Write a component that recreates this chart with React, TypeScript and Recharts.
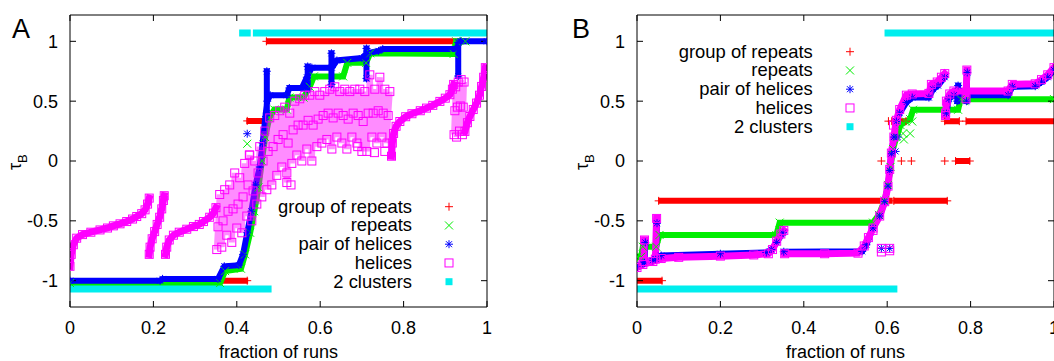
import { ComposedChart, Line, Scatter, XAxis, YAxis } from 'recharts'

// [x, tau_B] points; null breaks a run
type Pt = [number, number] | null

const xTicks = [0, 0.2, 0.4, 0.6, 0.8, 1]
const yTicks = [-1, -0.5, 0, 0.5, 1]
const legendLabels = ['group of repeats', 'repeats', 'pair of helices', 'helices', '2 clusters']

// ---------- panel A ----------
const groupA: Pt[] = [[0.367, -1], [0.42, -1], null, [0.43, 0.335], [0.465, 0.335], null, [0.477, 1], [0.92, 1]]
const groupMarksA: Pt[] = [[0.425, -1], [0.425, 0.335], [0.471, 1]]

const repeatsA: Pt[] = [
  [0, -1.02], [0.36, -1.02], [0.372, -0.92], [0.41, -0.9], [0.42, -0.78], [0.432, -0.6], [0.442, -0.42],
  [0.452, -0.22], [0.46, 0], [0.468, 0.2], [0.478, 0.36], [0.49, 0.43], [0.52, 0.43], [0.526, 0.53],
  [0.56, 0.53], [0.575, 0.62], [0.585, 0.707], [0.655, 0.707], [0.665, 0.82], [0.71, 0.82], [0.72, 0.9],
  [0.92, 0.895], [0.926, 1], [0.948, 1],
]
const repeatsMarksA: Pt[] = [[0.425, 0.144]]

const pairsA: Pt[] = [
  [0, -1], [0.216, -1], [0.222, -0.985], [0.355, -0.985], [0.37, -0.88], [0.405, -0.87], [0.415, -0.78],
  [0.425, -0.6], [0.435, -0.42], [0.445, -0.2], [0.455, -0.05], [0.462, 0.15], [0.468, 0.35], [0.473, 0.5],
  [0.48, 0.55], [0.52, 0.55], [0.526, 0.61], [0.556, 0.61], [0.568, 0.7], [0.58, 0.78], [0.628, 0.78],
  [0.64, 0.84], [0.7, 0.86], [0.712, 0.9], [0.74, 0.92], [0.75, 0.935], [0.926, 0.935], [0.936, 1], [1, 1],
  null, [0.472, 0.4], [0.472, 0.75],
  null, [0.57, 0.6], [0.57, 0.79],
  null, [0.627, 0.64], [0.627, 0.9],
  null, [0.711, 0.69], [0.711, 0.94],
  null, [0.931, 0.71], [0.931, 0.99],
]
const pairsMarksA: Pt[] = [[0.425, 0.228]]

const helicesA: Pt[] = [
  [0, -0.88], [0.003, -0.78], [0.008, -0.7], [0.016, -0.645], [0.03, -0.615], [0.05, -0.595], [0.072, -0.576],
  [0.09, -0.56], [0.104, -0.542], [0.12, -0.525], [0.136, -0.506], [0.15, -0.485], [0.16, -0.464],
  [0.172, -0.44], [0.18, -0.408], [0.186, -0.36], [0.19, -0.31],
  null, [0.19, -0.78], [0.192, -0.72], [0.197, -0.65], [0.203, -0.59], [0.209, -0.53], [0.215, -0.47],
  [0.22, -0.4], [0.224, -0.33], [0.226, -0.29],
  null, [0.229, -0.78], [0.232, -0.72], [0.238, -0.66], [0.248, -0.62], [0.262, -0.595], [0.28, -0.57],
  [0.296, -0.548], [0.31, -0.53], [0.32, -0.506], [0.335, -0.47], [0.344, -0.436], [0.35, -0.39],
  null, [0.771, 0.04], [0.773, 0.15], [0.776, 0.23], [0.782, 0.29], [0.791, 0.33], [0.805, 0.37], [0.82, 0.395],
  [0.84, 0.42], [0.855, 0.442], [0.87, 0.465], [0.887, 0.498], [0.9, 0.525], [0.911, 0.554], [0.917, 0.6], [0.92, 0.64],
  null, [0.947, 0.247], [0.953, 0.32], [0.959, 0.372], [0.967, 0.43], [0.975, 0.484], [0.982, 0.55],
  [0.987, 0.623], [0.992, 0.7], [0.996, 0.78],
]
// scattered sawtooth columns of the helices series
const helicesNoisyA: Pt[] = [
  [0.352, -0.74], [0.355, -0.55], [0.359, -0.28], [0.364, -0.72], [0.367, -0.5], [0.371, -0.24],
  [0.376, -0.62], [0.379, -0.42], [0.383, -0.2], [0.388, -0.68], [0.391, -0.4], [0.395, -0.1],
  [0.4, -0.56], [0.403, -0.36], [0.407, -0.14], [0.412, -0.6], [0.415, -0.3], [0.419, -0.02],
  [0.424, -0.46], [0.427, -0.2], [0.431, 0.05], [0.436, -0.5], [0.439, -0.25], [0.443, 0],
  [0.448, -0.36], [0.451, -0.1], [0.455, 0.12], [0.46, -0.3], [0.463, 0], [0.467, 0.25],
  [0.472, -0.24], [0.475, 0.08], [0.479, 0.36], [0.484, -0.2], [0.487, 0.12], [0.491, 0.38],
  [0.496, -0.12], [0.499, 0.18], [0.503, 0.42], [0.508, -0.05], [0.511, 0.22], [0.515, 0.45],
  [0.52, -0.18], [0.523, 0.15], [0.527, 0.4], [0.532, -0.02], [0.535, 0.26], [0.539, 0.5],
  [0.544, 0.05], [0.547, 0.3], [0.551, 0.52], [0.556, 0], [0.559, 0.3], [0.563, 0.55],
  [0.568, 0.1], [0.571, 0.34], [0.575, 0.55], [0.58, 0], [0.583, 0.3], [0.587, 0.58],
  [0.592, 0.12], [0.595, 0.35], [0.599, 0.55], [0.604, 0.15], [0.607, 0.38], [0.611, 0.58],
  [0.616, 0.18], [0.619, 0.4], [0.623, 0.6], [0.628, 0.1], [0.631, 0.36], [0.635, 0.62],
  [0.64, 0.2], [0.643, 0.4], [0.647, 0.58], [0.652, 0.15], [0.655, 0.38], [0.659, 0.6],
  [0.664, 0.1], [0.667, 0.35], [0.671, 0.58], [0.676, 0.2], [0.679, 0.4], [0.683, 0.6],
  [0.688, 0.15], [0.691, 0.38], [0.695, 0.6], [0.7, 0.08], [0.703, 0.33], [0.707, 0.58],
  [0.712, 0.08], [0.715, 0.4], [0.719, 0.72], [0.724, 0.2], [0.727, 0.4], [0.731, 0.6],
  [0.736, 0.15], [0.739, 0.42], [0.743, 0.7], [0.748, 0.2], [0.751, 0.4], [0.755, 0.6],
  [0.76, 0.15], [0.763, 0.38], [0.767, 0.58],
  null, [0.921, 0.22], [0.923, 0.42], [0.925, 0.62], [0.927, 0.2], [0.929, 0.45], [0.931, 0.66],
  [0.934, 0.25], [0.936, 0.46], [0.938, 0.68], [0.941, 0.22], [0.943, 0.45], [0.945, 0.66],
]
const helicesMarksA: Pt[] = [[0.43, 0.05], [0.52, -0.1], [0.53, -0.2], [0.69, 0.12], [0.73, 0.07], [0.755, 0.08]]

const clustersA: Pt[] = [[0, -1.07], [0.475, -1.07], null, [0.414, 1.07], [0.425, 1.07], null, [0.447, 1.07], [1, 1.07]]

// ---------- panel B ----------
const groupB: Pt[] = [
  [0, -1], [0.054, -1], null, [0.058, -0.333], [0.606, -0.333], null, [0.622, -0.333], [0.634, -0.333],
  null, [0.646, -0.333], [0.654, -0.333], null, [0.662, -0.333], [0.738, -0.333],
  null, [0.618, 0.333], [0.638, 0.333], null, [0.744, 0.333], [0.766, 0.333], null, [0.796, 0.333], [1, 0.333],
  null, [0.77, 0], [0.792, 0],
]
const groupMarksB: Pt[] = [
  [0.06, -1], [0.052, -0.333], [0.616, -0.333], [0.744, -0.333], [0.603, 0.333], [0.611, 0.333], [0.645, 0.333],
  [0.738, 0.333], [0.773, 0.333], [0.789, 0.333], [0.586, 0], [0.634, 0], [0.658, 0], [0.738, 0], [0.764, 0], [0.798, 0],
]

const repeatsB: Pt[] = [
  [0, -0.8], [0.01, -0.8], [0.014, -0.716], [0.046, -0.716], [0.054, -0.618], [0.334, -0.618], [0.342, -0.515],
  [0.566, -0.515], [0.58, -0.45], [0.594, -0.33], [0.602, -0.2], [0.608, -0.05], [0.614, 0.1], [0.622, 0.2],
  [0.632, 0.3], [0.645, 0.33], [0.655, 0.35], [0.662, 0.428], [0.77, 0.428], [0.776, 0.517], [1, 0.517],
]
const repeatsMarksB: Pt[] = [[0.638, 0.23], [0.655, 0.23], [0.66, 0.33], [0.64, 0.18], [0.785, 0.5]]

const pairsB: Pt[] = [
  [0, -0.88], [0.014, -0.855], [0.038, -0.83], [0.058, -0.79], [0.2, -0.775], [0.31, -0.765], [0.322, -0.74],
  [0.335, -0.68], [0.35, -0.6],
  null, [0.352, -0.758], [0.54, -0.755], [0.55, -0.7], [0.566, -0.56], [0.582, -0.46], [0.594, -0.34],
  [0.602, -0.21], [0.606, -0.08], [0.61, 0.06], [0.616, 0.2], [0.622, 0.33], [0.63, 0.4], [0.646, 0.49],
  [0.66, 0.53], [0.7, 0.53], [0.71, 0.6], [0.722, 0.63], [0.738, 0.7],
  null, [0.742, 0.4], [0.748, 0.52], [0.76, 0.55], [0.89, 0.55], [0.9, 0.62], [0.955, 0.625], [0.97, 0.66],
  [0.985, 0.7], [1, 0.76],
  null, [0.018, -0.85], [0.02, -0.68], null, [0.045, -0.82], [0.048, -0.52],
  null, [0.768, 0.5], [0.77, 0.63], null, [0.79, 0.5], [0.792, 0.74],
]
const pairsMarksB: Pt[] = [[0.586, -0.73], [0.606, -0.73], [0.625, 0.2], [0.62, 0.08]]

const helicesB: Pt[] = [
  [0, -0.89], [0.014, -0.865], [0.038, -0.84], [0.058, -0.815], [0.1, -0.805], [0.2, -0.795], [0.28, -0.785],
  [0.315, -0.775], [0.325, -0.74], [0.335, -0.67], [0.345, -0.61], [0.352, -0.58],
  null, [0.354, -0.775], [0.45, -0.775], [0.53, -0.77], [0.545, -0.71], [0.555, -0.64], [0.566, -0.56],
  [0.582, -0.46], [0.594, -0.34], [0.602, -0.21], [0.606, -0.07], [0.61, 0.066], [0.616, 0.2], [0.622, 0.34],
  [0.63, 0.43], [0.646, 0.55], [0.66, 0.56], [0.7, 0.565], [0.706, 0.64], [0.72, 0.66], [0.73, 0.7], [0.738, 0.73],
  null, [0.74, 0.38], [0.742, 0.5], [0.75, 0.56], [0.76, 0.585], [0.89, 0.585], [0.9, 0.64], [0.955, 0.645],
  [0.97, 0.68], [0.985, 0.72], [1, 0.78],
  null, [0.016, -0.84], [0.018, -0.66], null, [0.044, -0.82], [0.047, -0.48],
  null, [0.789, 0.52], [0.791, 0.76],
]
const helicesMarksB: Pt[] = [[0.586, -0.73], [0.606, -0.73], [0.586, -0.76], [0.606, -0.75], [0.566, -0.58], [0.74, 0.4], [0.615, 0.3]]

const clustersB: Pt[] = [[0, -1.07], [0.616, -1.07], null, [0.602, 1.07], [1, 1.07]]

// ---------- drawing ----------
const FONT = '"Liberation Sans", Arial, Helvetica, sans-serif'
const RED = '#ff0000'
const GREEN = '#00ee00'
const BLUE = '#0000ff'
const MAGENTA = '#ff00ff'
const CYAN = '#00eeee'

const rows = (pts: Pt[]) => {
  let lastX = 0
  return pts.map((p) => {
    if (!p) return { x: lastX, y: null as number | null }
    lastX = p[0]
    return { x: p[0], y: p[1] as number | null }
  })
}

type Mark = 'plus' | 'cross' | 'star' | 'box' | 'fbox'

function marker(kind: Mark, color: string, cx: number, cy: number, key?: string) {
  const s = 4
  if (kind === 'plus') return <path key={key} d={`M${cx - s},${cy}h${2 * s}M${cx},${cy - s}v${2 * s}`} stroke={color} fill="none" />
  if (kind === 'cross') return <path key={key} d={`M${cx - s},${cy - s}l${2 * s},${2 * s}M${cx - s},${cy + s}l${2 * s},${-2 * s}`} stroke={color} fill="none" />
  if (kind === 'star')
    return (
      <path key={key} stroke={color} fill="none"
        d={`M${cx - s},${cy}h${2 * s}M${cx},${cy - s}v${2 * s}M${cx - 3},${cy - 3}l6,6M${cx - 3},${cy + 3}l6,-6`} />
    )
  if (kind === 'box') return <rect key={key} x={cx - 4} y={cy - 4} width={8} height={8} stroke={color} fill="none" />
  return <rect key={key} x={cx - 3.5} y={cy - 3.5} width={7} height={7} fill={color} />
}

const dotFn = (kind: Mark, color: string) => (p: any) => {
  const k = `d${p.index}`
  if (p.cx == null || p.cy == null || p.payload?.y == null || Number.isNaN(p.cy)) return <g key={k} />
  return marker(kind, color, p.cx, p.cy, k)
}

const shapeFn = (kind: Mark, color: string) => (p: any) => {
  if (p.cx == null || p.cy == null) return <g />
  return marker(kind, color, p.cx, p.cy)
}

interface PanelProps {
  left: number
  width: number
  margin: { top: number; right: number; bottom: number; left: number }
  group: Pt[]
  groupMarks: Pt[]
  repeats: Pt[]
  repeatsMarks: Pt[]
  pairs: Pt[]
  pairsMarks: Pt[]
  helices: Pt[]
  helicesNoisy: Pt[]
  helicesMarks: Pt[]
  clusters: Pt[]
}

const tickStyle = { fontSize: 18, fill: '#000', fontFamily: FONT }

function Panel(props: PanelProps) {
  const run = { dataKey: 'y', type: 'linear' as const, activeDot: false, isAnimationActive: false, connectNulls: false }
  return (
    <div style={{ position: 'absolute', left: props.left, top: 0 }}>
      <ComposedChart width={props.width} height={361} margin={props.margin}>
        <XAxis dataKey="x" type="number" domain={[0, 1]} ticks={xTicks} interval={0} height={1}
          tickSize={-6} tickMargin={20} stroke="#000" tick={tickStyle} allowDataOverflow />
        <XAxis xAxisId="top" orientation="top" dataKey="x" type="number" domain={[0, 1]} ticks={xTicks}
          interval={0} height={1} tickSize={-6} stroke="#000" tickFormatter={() => ''} allowDataOverflow />
        <YAxis type="number" domain={[-1.22, 1.22]} ticks={yTicks} interval={0} width={1}
          tickSize={-6} tickMargin={18} stroke="#000" tick={tickStyle} allowDataOverflow />
        <YAxis yAxisId="right" orientation="right" type="number" domain={[-1.22, 1.22]} ticks={yTicks}
          interval={0} width={1} tickSize={-6} stroke="#000" tickFormatter={() => ''} allowDataOverflow />

        <Line {...run} data={rows(props.group)} stroke={RED} strokeWidth={6} strokeLinecap="square" dot={false} />
        <Scatter data={rows(props.groupMarks)} dataKey="y" isAnimationActive={false} shape={shapeFn('plus', RED)} />

        <Line {...run} data={rows(props.repeats)} stroke={GREEN} strokeWidth={6} strokeLinecap="square" dot={dotFn('cross', GREEN)} />
        <Scatter data={rows(props.repeatsMarks)} dataKey="y" isAnimationActive={false} shape={shapeFn('cross', GREEN)} />

        <Line {...run} data={rows(props.pairs)} stroke={BLUE} strokeWidth={6} strokeLinecap="square" dot={dotFn('star', BLUE)} />
        <Scatter data={rows(props.pairsMarks)} dataKey="y" isAnimationActive={false} shape={shapeFn('star', BLUE)} />

        <Line {...run} data={rows(props.helicesNoisy)} stroke={MAGENTA} strokeOpacity={0.45} strokeWidth={6} dot={dotFn('box', MAGENTA)} />
        <Line {...run} data={rows(props.helices)} stroke={MAGENTA} strokeWidth={7} strokeLinecap="square" dot={dotFn('box', MAGENTA)} />
        <Scatter data={rows(props.helicesMarks)} dataKey="y" isAnimationActive={false} shape={shapeFn('box', MAGENTA)} />

        <Line {...run} data={rows(props.clusters)} stroke={CYAN} strokeWidth={7} strokeLinecap="square" dot={false} />
      </ComposedChart>
    </div>
  )
}

const legendKinds: [Mark, string][] = [['plus', RED], ['cross', GREEN], ['star', BLUE], ['box', MAGENTA], ['fbox', CYAN]]

function Key({ right, markX, top }: { right: number; markX: number; top: number }) {
  return (
    <g>
      {legendLabels.map((label, i) => {
        const y = top + i * 18.75
        return (
          <g key={label}>
            <text x={right} y={y + 6} textAnchor="end" fontSize={18.4}>{label}</text>
            {marker(legendKinds[i][0], legendKinds[i][1], markX, y)}
          </g>
        )
      })}
    </g>
  )
}

export default function App() {
  return (
    <div style={{ position: 'fixed', left: 0, top: 0, width: 1054, height: 361, overflow: 'hidden', background: '#fff' }}>
      <Panel left={0} width={500} margin={{ top: 14, right: 12, bottom: 53, left: 69 }}
        group={groupA} groupMarks={groupMarksA} repeats={repeatsA} repeatsMarks={repeatsMarksA}
        pairs={pairsA} pairsMarks={pairsMarksA} helices={helicesA} helicesNoisy={helicesNoisyA}
        helicesMarks={helicesMarksA} clusters={clustersA} />
      <Panel left={520} width={540} margin={{ top: 14, right: 5, bottom: 53, left: 116 }}
        group={groupB} groupMarks={groupMarksB} repeats={repeatsB} repeatsMarks={repeatsMarksB}
        pairs={pairsB} pairsMarks={pairsMarksB} helices={helicesB} helicesNoisy={[]}
        helicesMarks={helicesMarksB} clusters={clustersB} />
      <svg width={1054} height={361} style={{ position: 'absolute', left: 0, top: 0, pointerEvents: 'none' }}
        fontFamily={FONT} fill="#000">
        <text x={12} y={38} fontSize={27}>A</text>
        <text x={572} y={38} fontSize={27}>B</text>
        <text transform="translate(20.5,170) rotate(-90)" fontSize={18}>τ<tspan fontSize={13} dy={6}>B</tspan></text>
        <text transform="translate(587.5,170) rotate(-90)" fontSize={18}>τ<tspan fontSize={13} dy={6}>B</tspan></text>
        <text x={278.5} y={358} textAnchor="middle" fontSize={18}>fraction of runs</text>
        <text x={845.5} y={358} textAnchor="middle" fontSize={18}>fraction of runs</text>
        <Key right={412} markX={449} top={206.7} />
        <Key right={812.7} markX={850} top={51.7} />
      </svg>
    </div>
  )
}
